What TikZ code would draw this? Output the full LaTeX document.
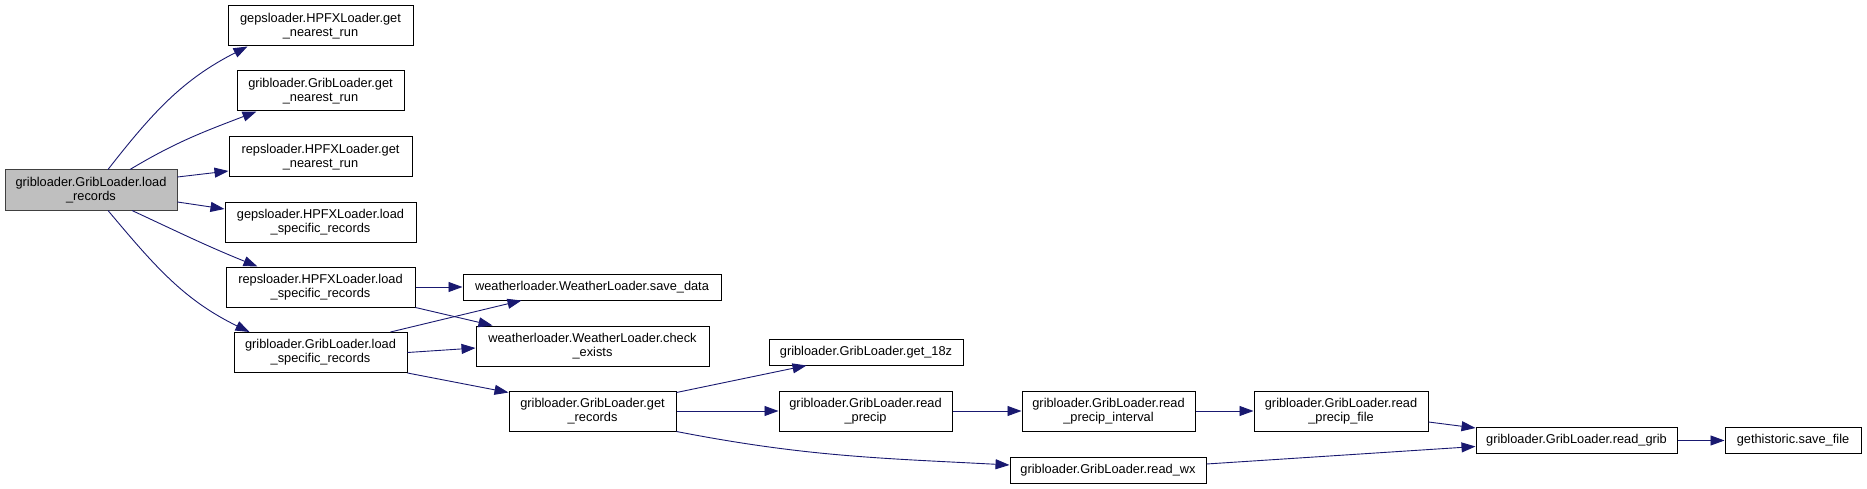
\documentclass[tikz,border=0pt]{standalone}
\usepackage{fontspec}
\setmainfont{Liberation Sans}
\usepackage{xcolor}
\usepackage{tikz}
\usetikzlibrary{arrows.meta, positioning}
\definecolor{edgec}{HTML}{191970}
\definecolor{rootfill}{HTML}{BFBFBF}
\definecolor{rootline}{HTML}{404040}
\tikzset{
  fn/.style={draw=black, line width=1pt, fill=white, align=center, inner sep=0pt,
    font=\fontsize{12.8}{14.3}\selectfont, minimum height=40pt},
  fnroot/.style={fn, draw=rootline, fill=rootfill},
  call/.style={-{Triangle[length=14pt, width=10pt]}, draw=edgec, line width=0.9pt},
}

\begin{document}
\begin{tikzpicture}[x=1pt, y=-1pt]
  \useasboundingbox (0,0) rectangle (1867,489);

  % caller
  \node[fnroot, minimum width=172pt] (root) at (91,190)
    {gribloader.GribLoader.load\\\_records};

  % first level
  \node[fn, minimum width=185pt] (gepsnear) at (320.5,26)
    {gepsloader.HPFXLoader.get\\\_nearest\_run};
  \node[fn, minimum width=167pt] (gribnear) at (320.5,91)
    {gribloader.GribLoader.get\\\_nearest\_run};
  \node[fn, minimum width=183pt] (repsnear) at (320.5,157)
    {repsloader.HPFXLoader.get\\\_nearest\_run};
  \node[fn, minimum width=191pt] (gepsspec) at (320.5,222)
    {gepsloader.HPFXLoader.load\\\_specific\_records};
  \node[fn, minimum width=189pt] (repsspec) at (320.5,287)
    {repsloader.HPFXLoader.load\\\_specific\_records};
  \node[fn, minimum width=173pt] (gribspec) at (320.5,352.5)
    {gribloader.GribLoader.load\\\_specific\_records};

  % second level
  \node[fn, minimum width=258pt, minimum height=26pt] (savedata) at (592,287)
    {weatherloader.WeatherLoader.save\_data};
  \node[fn, minimum width=233pt] (checkex) at (592.5,346)
    {weatherloader.WeatherLoader.check\\\_exists};
  \node[fn, minimum width=167pt] (getrec) at (592.5,411)
    {gribloader.GribLoader.get\\\_records};

  % readers
  \node[fn, minimum width=194pt, minimum height=26pt] (get18z) at (866,352)
    {gribloader.GribLoader.get\_18z};
  \node[fn, minimum width=173pt] (readprecip) at (865.5,411)
    {gribloader.GribLoader.read\\\_precip};
  \node[fn, minimum width=173pt] (precipint) at (1108.5,411)
    {gribloader.GribLoader.read\\\_precip\_interval};
  \node[fn, minimum width=174pt] (precipfile) at (1341,411)
    {gribloader.GribLoader.read\\\_precip\_file};
  \node[fn, minimum width=196pt, minimum height=26pt] (readwx) at (1108,470)
    {gribloader.GribLoader.read\_wx};
  \node[fn, minimum width=201pt, minimum height=26pt] (readgrib) at (1576.5,440.5)
    {gribloader.GribLoader.read\_grib};
  \node[fn, minimum width=136pt, minimum height=26pt] (savefile) at (1793,440.5)
    {gethistoric.save\_file};

  % calls from the root
  \draw[call] ([xshift=17pt]root.north) to[out=52, in=-153] ([xshift=20pt]gepsnear.south west);
  \draw[call] ([xshift=39pt]root.north) to[out=31, in=-159] ([xshift=20pt]gribnear.south west);
  \draw[call] ([yshift=13pt]root.east) -- ([yshift=-14pt]repsnear.west);
  \draw[call] ([yshift=-12pt]root.east) -- ([yshift=13pt]gepsspec.west);
  \draw[call] ([xshift=41pt]root.south) to[out=-25, in=158] ([xshift=32pt]repsspec.north west);
  \draw[call] ([xshift=17pt]root.south) to[out=-50, in=154] ([xshift=16pt]gribspec.north west);

  % loaders
  \draw[call] (repsspec.east) -- (savedata.west);
  \draw[call] (repsspec.south east) -- ([xshift=17pt]checkex.north west);
  \draw[call] ([xshift=-17pt]gribspec.north east) -- ([xshift=59pt]savedata.south west);
  \draw[call] (gribspec.east) -- ([yshift=-2pt]checkex.west);
  \draw[call] (gribspec.south east) -- ([yshift=-2pt]getrec.north west);

  % grib readers
  \draw[call] ([yshift=-2pt]getrec.north east) -- ([xshift=38pt]get18z.south west);
  \draw[call] (getrec.east) -- (readprecip.west);
  \draw[call] (getrec.south east) to[out=-11, in=177] ([yshift=5pt]readwx.west);
  \draw[call] (readprecip.east) -- (precipint.west);
  \draw[call] (precipint.east) -- (precipfile.west);
  \draw[call] ([yshift=-11pt]precipfile.east) -- ([yshift=-1pt]readgrib.north west);
  \draw[call] ([yshift=6pt]readwx.east) -- ([yshift=-6pt]readgrib.west);
  \draw[call] (readgrib.east) -- (savefile.west);
\end{tikzpicture}
\end{document}
